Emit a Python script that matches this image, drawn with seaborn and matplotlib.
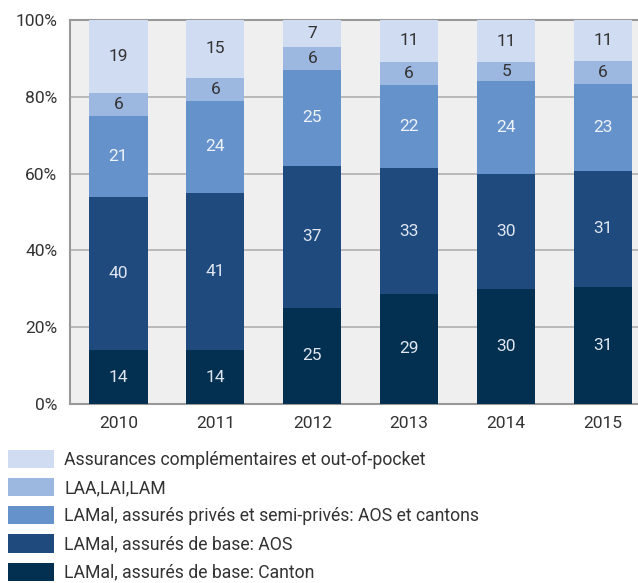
import matplotlib.pyplot as plt
import seaborn as sns
import pandas as pd
import numpy as np
from matplotlib.patches import Patch

years = ["2010", "2011", "2012", "2013", "2014", "2015"]
canton = [14, 14, 25, 29, 30, 31]
aos = [40, 41, 37, 33, 30, 31]
prives = [21, 24, 25, 22, 24, 23]
laa = [6, 6, 6, 6, 5, 6]
compl = [19, 15, 7, 11, 11, 11]

labels = [
    "LAMal, assurés de base: Canton",
    "LAMal, assurés de base: AOS",
    "LAMal, assurés privés et semi-privés: AOS et cantons",
    "LAA,LAI,LAM",
    "Assurances complémentaires et out-of-pocket",
]
series = [canton, aos, prives, laa, compl]
colors = ["#033050", "#1e4a7e", "#6692cb", "#9cb7e0", "#cfdcf2"]
text_colors = ["#dfe6f0", "#dfe6f0", "#eef2f9", "#333333", "#333333"]

sns.set_style("white")
plt.rcParams["font.family"] = ["Roboto", "DejaVu Sans"]

vals = np.array(series, dtype=float)
shares = vals / vals.sum(axis=0) * 100
tops = np.cumsum(shares, axis=0)
bottoms = tops - shares

fig = plt.figure(figsize=(6.38, 5.83), dpi=100)
ax = fig.add_axes([70 / 638, 179 / 583, 581.5 / 638, 384 / 583])
ax.set_facecolor("#efefef")

# draw cumulative bars from top down so lower ones cover upper ones
for i in range(len(series) - 1, -1, -1):
    df = pd.DataFrame({"year": years, "top": tops[i]})
    sns.barplot(data=df, x="year", y="top", color=colors[i], width=0.6,
                saturation=1, linewidth=0, edgecolor="none", ax=ax, zorder=3)

for i, s in enumerate(series):
    for j, v in enumerate(s):
        ax.text(j, (bottoms[i, j] + tops[i, j]) / 2, str(v), ha="center",
                va="center", fontsize=12.5, color=text_colors[i], zorder=4)

ax.set_xlim(-0.5, 5.5)
ax.set_ylim(0, 100)
ax.set_yticks([0, 20, 40, 60, 80, 100])
ax.set_yticklabels(["0%", "20%", "40%", "60%", "80%", "100%"])
ax.yaxis.grid(True, color="#b0b0b0", linewidth=1.2, zorder=0)
ax.set_axisbelow(True)
ax.set_xlabel("")
ax.set_ylabel("")
ax.tick_params(axis="y", length=4, color="#999999", labelsize=12.5,
               labelcolor="#333333", pad=5)
ax.tick_params(axis="x", length=0, labelsize=12.5, labelcolor="#333333", pad=9)
for side in ["left", "bottom", "top"]:
    ax.spines[side].set_visible(True)
    ax.spines[side].set_color("#999999")
    ax.spines[side].set_linewidth(1.5)
ax.spines["right"].set_visible(False)

handles = [Patch(facecolor=colors[i], edgecolor="none", label=labels[i])
           for i in range(4, -1, -1)]
fig.legend(handles=handles, loc="upper left",
           bbox_to_anchor=(8 / 638, 1 - 450 / 583),
           frameon=False, fontsize=12.7, handlelength=2.6, handleheight=1.2,
           labelspacing=0.52, handletextpad=0.6, borderaxespad=0, borderpad=0,
           labelcolor="#333333")

fig.savefig("out.png", dpi=100)
